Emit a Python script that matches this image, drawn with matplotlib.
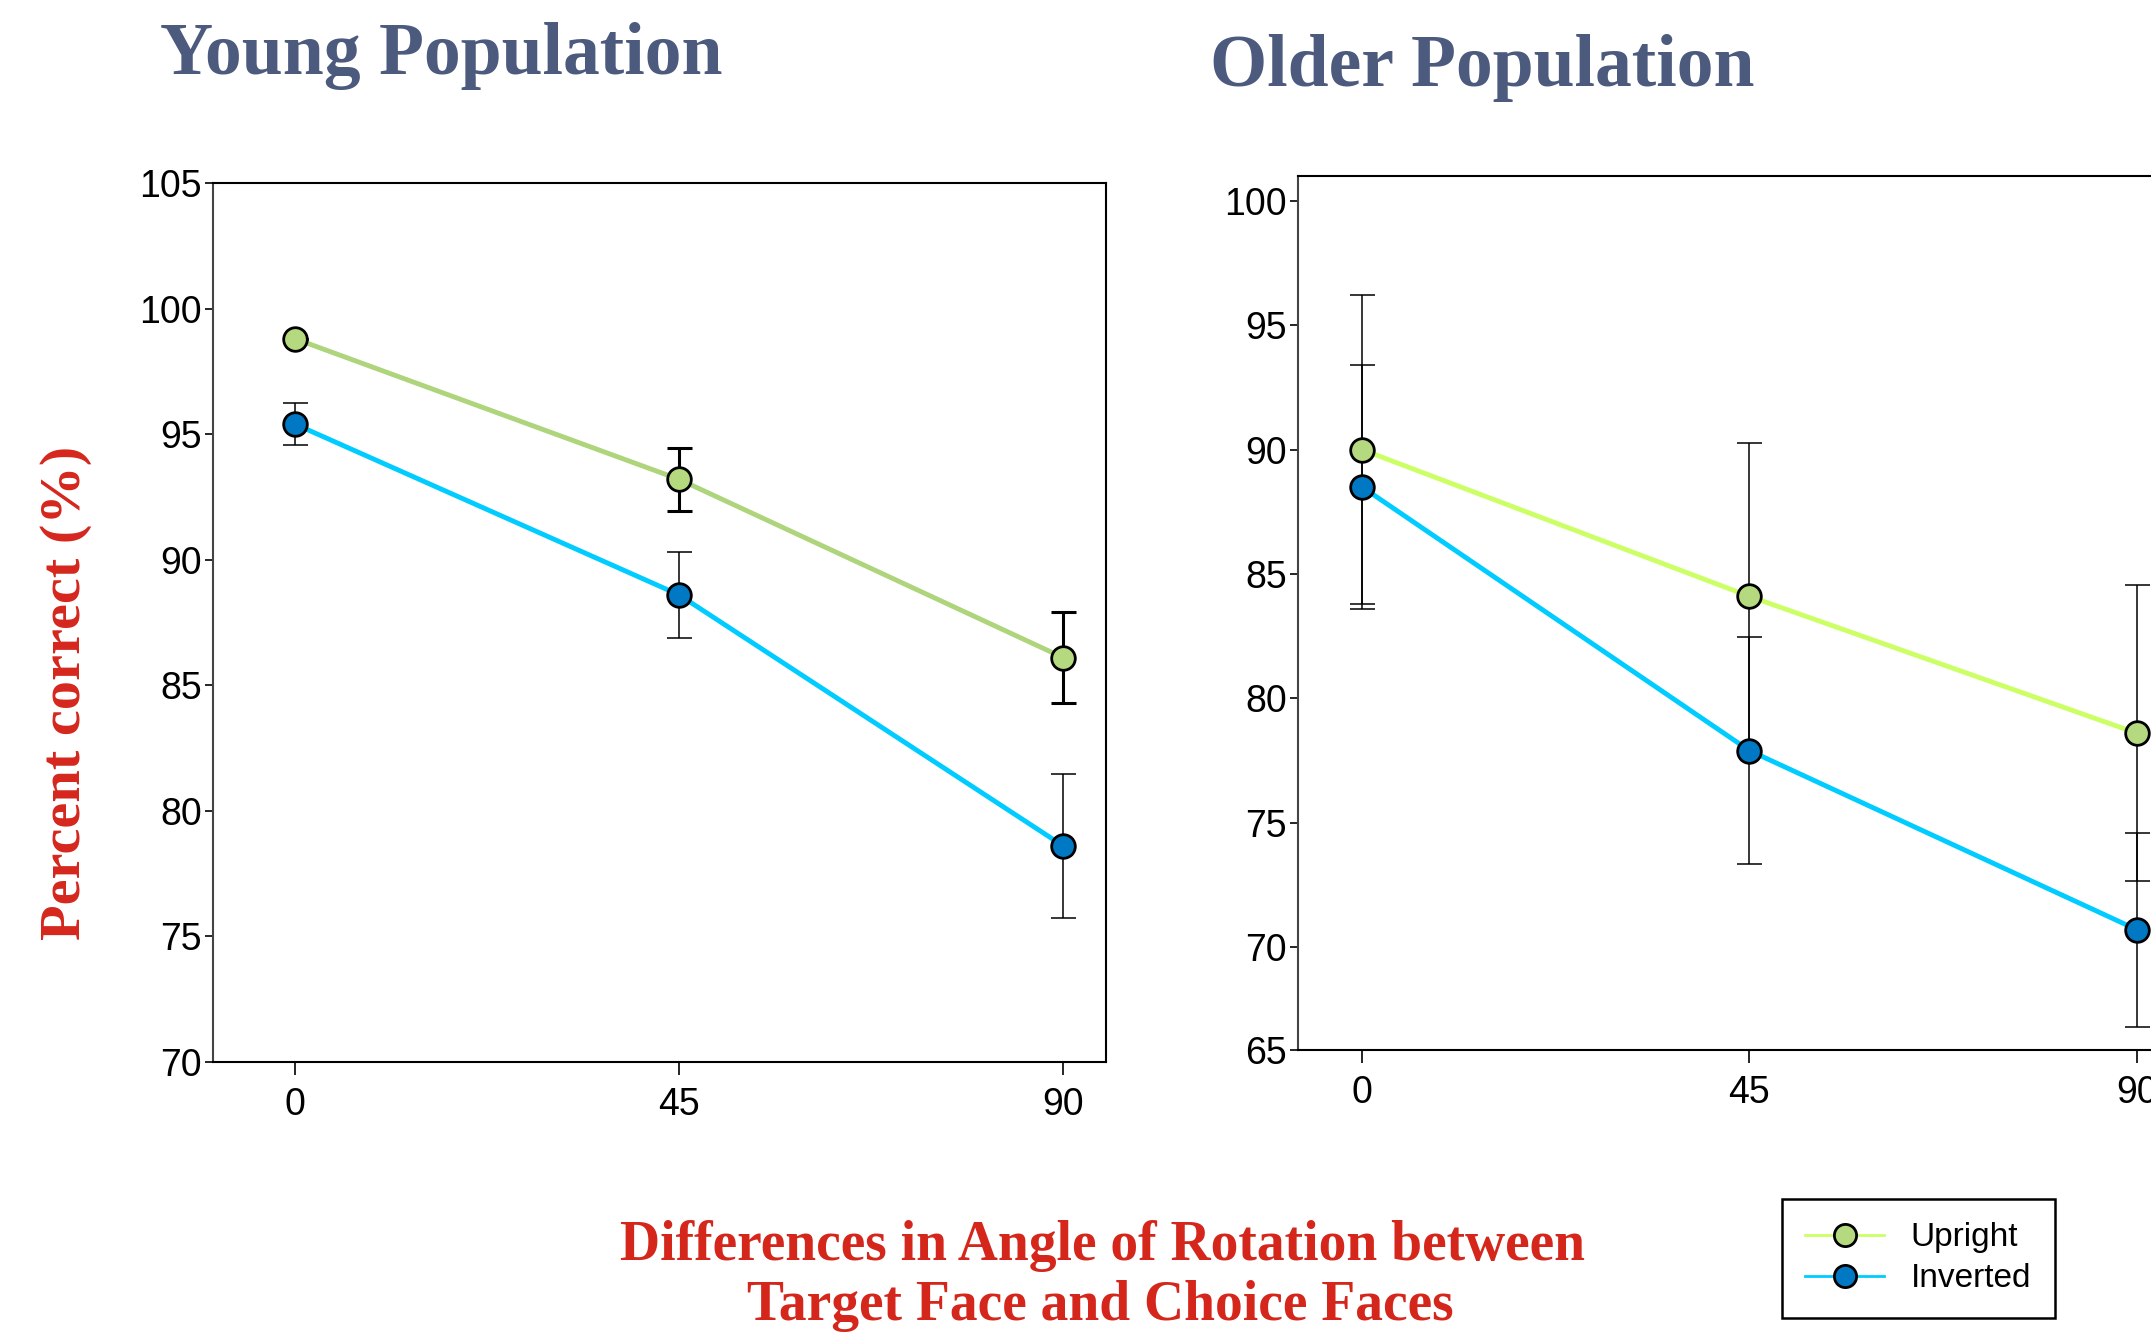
import numpy as np
import matplotlib
matplotlib.use('Agg')
import matplotlib.pyplot as plt
from matplotlib.lines import Line2D

# values
angles = [0, 45, 90]
tick_labels = ['0', '45', '90']

young_upright = [98.8, 93.2, 86.1]
young_upright_err = [0.0, 1.25, 1.8]
young_inverted = [95.4, 88.6, 78.6]
young_inverted_err = [0.85, 1.7, 2.85]

older_upright = [90.0, 84.1, 78.6]
older_upright_err = [6.2, 6.15, 5.95]
older_inverted = [88.5, 77.9, 70.7]
older_inverted_err = [4.9, 4.55, 3.9]

young_yticks = [70, 75, 80, 85, 90, 95, 100, 105]
older_yticks = [70, 75, 80, 85, 90, 95, 100]

W, H = 2151, 1334
fig = plt.figure(figsize=(W / 100, H / 100), dpi=100)

tickfont = ['Liberation Sans Narrow', 'Liberation Sans', 'DejaVu Sans']
serif = ['Liberation Serif', 'DejaVu Serif']
red = '#d5261c'
slate = '#4b5a7d'
green_fill = '#b5d97f'
blue_fill = '#0078c4'
cyan = '#00ccff'


def box(l, t, r, b):
    return [l / W, 1 - b / H, (r - l) / W, (b - t) / H]


def style(ax, xlim, ylim):
    ax.set_xlim(*xlim)
    ax.set_ylim(*ylim)
    for s in ax.spines.values():
        s.set_linewidth(1.5)
        s.set_color('black')
    ax.spines['left'].set_color('#444444')
    ax.tick_params(axis='y', direction='out', length=6, width=1.2, pad=2)
    ax.tick_params(axis='x', direction='out', length=9, width=1.2, pad=9)
    for lab in ax.get_xticklabels() + ax.get_yticklabels():
        lab.set_family(tickfont)
        lab.set_fontsize(27)


# ---------------- young population ----------------
ax1 = fig.add_axes(box(213, 183, 1106, 1062))
ax1.errorbar(angles, young_upright, yerr=young_upright_err, fmt='none',
             ecolor='black', elinewidth=2.2, capsize=9, capthick=2.2, zorder=2)
ax1.errorbar(angles, young_inverted, yerr=young_inverted_err, fmt='none',
             ecolor='black', elinewidth=1.1, capsize=9, capthick=1.1, zorder=2)
ax1.plot(angles, young_upright, color='#aed47c', lw=3.5, marker='o', ms=17,
         mfc=green_fill, mec='black', mew=2, zorder=3)
ax1.plot(angles, young_inverted, color=cyan, lw=3.5, marker='o', ms=17,
         mfc=blue_fill, mec='black', mew=2, zorder=3)
ax1.set_xticks(angles)
ax1.set_xticklabels(tick_labels)
ax1.set_yticks(young_yticks)
ax1.set_yticklabels([str(v) for v in young_yticks])
style(ax1, (-9.6, 95.0), (70, 105))

# ---------------- older population ----------------
ax2 = fig.add_axes(box(1298, 176, 2191, 1050))
ax2.errorbar(angles, older_upright, yerr=older_upright_err, fmt='none',
             ecolor='black', elinewidth=1.1, capsize=9, capthick=1.1, zorder=2)
ax2.errorbar(angles, older_inverted, yerr=older_inverted_err, fmt='none',
             ecolor='black', elinewidth=1.1, capsize=9, capthick=1.1, zorder=2)
ax2.plot(angles, older_upright, color='#ccff66', lw=3.5, marker='o', ms=17,
         mfc=green_fill, mec='black', mew=2, zorder=3, clip_on=False)
ax2.plot(angles, older_inverted, color=cyan, lw=3.5, marker='o', ms=17,
         mfc=blue_fill, mec='black', mew=2, zorder=3, clip_on=False)
ylo = 65.86
ax2.set_xticks(angles)
ax2.set_xticklabels(tick_labels)
ax2.set_yticks([ylo] + older_yticks)
ax2.set_yticklabels(['65'] + [str(v) for v in older_yticks])
style(ax2, (-7.43, 96.3), (ylo, 101.0))

# ---------------- titles and labels ----------------
fig.text(160 / W, 1 - 74 / H, 'Young Population', family=serif, fontweight='bold',
         fontsize=53, color=slate, ha='left', va='baseline')
fig.text(1210 / W, 1 - 86 / H, 'Older Population', family=serif, fontweight='bold',
         fontsize=53, color=slate, ha='left', va='baseline')

fig.text(66 / W, 1 - 693 / H, 'Percent correct (%)', family=serif, fontweight='bold',
         fontsize=42, color=red, rotation=90, ha='center', va='center')

fig.text(1103 / W, 1 - 1260 / H, 'Differences in Angle of Rotation between',
         family=serif, fontweight='bold', fontsize=40, color=red,
         ha='center', va='baseline')
fig.text(1100 / W, 1 - 1320 / H, 'Target Face and Choice Faces',
         family=serif, fontweight='bold', fontsize=40, color=red,
         ha='center', va='baseline')

# ---------------- legend ----------------
handles = [
    Line2D([], [], color='#ccff66', lw=2, marker='o', ms=16,
           mfc=green_fill, mec='black', mew=2),
    Line2D([], [], color=cyan, lw=2, marker='o', ms=16,
           mfc=blue_fill, mec='black', mew=2),
]
leg = fig.legend(handles, ['Upright', 'Inverted'], loc='upper left',
                 bbox_to_anchor=(1782 / W, 1 - 1199 / H), borderaxespad=0,
                 prop={'family': ['Liberation Sans', 'DejaVu Sans'], 'size': 24},
                 handlelength=2.36, handletextpad=0.8, labelspacing=0.3,
                 borderpad=0.7, fancybox=False, framealpha=1, edgecolor='black')
leg.get_frame().set_linewidth(1.8)

fig.savefig('out.png', dpi=100)
